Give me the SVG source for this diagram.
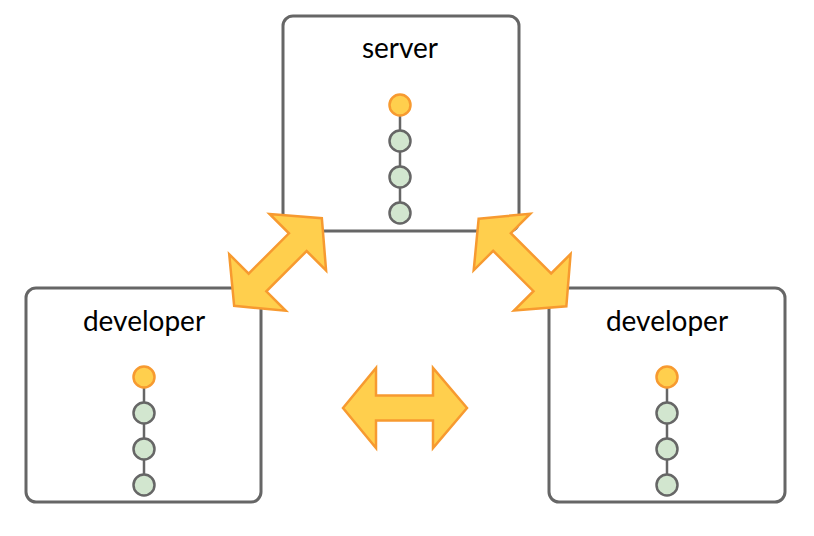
<svg xmlns="http://www.w3.org/2000/svg" width="814" height="536" viewBox="0 0 814 536">
<defs>
<style>
.box{fill:#fff;stroke:#666;stroke-width:3}
.lbl{font-family:Lato,"Open Sans",sans-serif;font-size:28px;fill:#000;text-anchor:middle}
.stem{stroke:#666;stroke-width:2.5}
.head{fill:#ffcf4d;stroke:#f79a30;stroke-width:2.5}
.commit{fill:#d2e6cf;stroke:#666;stroke-width:2.5}
.arrow{fill:#ffcf4d;stroke:#f79a30;stroke-width:2.5;stroke-linejoin:miter}
</style>
<polygon id="arr" points="-62,0 -29,-40 -29,-12.5 28,-12.5 28,-40 62,0 28,40 28,12.5 -29,12.5 -29,40"/>
</defs>
<g id="server">
<rect class="box" x="283" y="16" width="236" height="215" rx="10"/>
<text class="lbl" x="400" y="58">server</text>
<line class="stem" x1="400" y1="105" x2="400" y2="213"/>
<circle class="head" cx="400" cy="105" r="10.5"/>
<circle class="commit" cx="400" cy="141" r="10.5"/>
<circle class="commit" cx="400" cy="177" r="10.5"/>
<circle class="commit" cx="400" cy="213" r="10.5"/>
</g>
<g id="developer-left">
<rect class="box" x="26" y="288" width="235" height="214" rx="10"/>
<text class="lbl" x="144" y="331">developer</text>
<line class="stem" x1="144" y1="377" x2="144" y2="485"/>
<circle class="head" cx="144" cy="377" r="10.5"/>
<circle class="commit" cx="144" cy="413" r="10.5"/>
<circle class="commit" cx="144" cy="449" r="10.5"/>
<circle class="commit" cx="144" cy="485" r="10.5"/>
</g>
<g id="developer-right">
<rect class="box" x="549" y="288" width="236" height="214" rx="10"/>
<text class="lbl" x="667" y="331">developer</text>
<line class="stem" x1="667" y1="377" x2="667" y2="485"/>
<circle class="head" cx="667" cy="377" r="10.5"/>
<circle class="commit" cx="667" cy="413" r="10.5"/>
<circle class="commit" cx="667" cy="449" r="10.5"/>
<circle class="commit" cx="667" cy="485" r="10.5"/>
</g>
<g id="connectors">
<use href="#arr" class="arrow" transform="translate(278,262) rotate(-45)"/>
<use href="#arr" class="arrow" transform="translate(522.5,262.5) rotate(45)"/>
<use href="#arr" class="arrow" transform="translate(405,408)"/>
</g>
</svg>
